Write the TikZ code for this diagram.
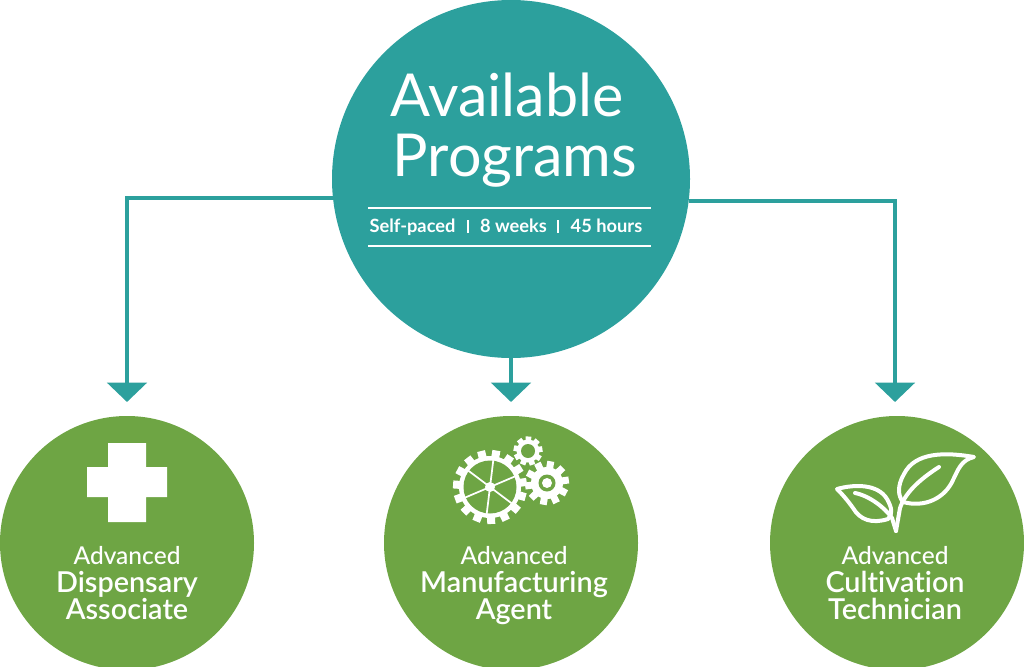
\documentclass[tikz,border=0pt]{standalone}
\usepackage{fontspec}
\setmainfont{Lato}[Ligatures=NoCommon]
\newfontfamily\titlefont{Lato}
\newfontfamily\mediumfont{Lato Medium}[Ligatures=NoCommon]
\newfontfamily\heavyfont{Lato Semibold}[Ligatures=NoCommon]
\definecolor{progteal}{RGB}{44,160,157}
\definecolor{proggreen}{RGB}{110,165,68}
\usetikzlibrary{arrows.meta}
% one gear: centre x, centre y, teeth, body radius, tooth radius, tooth half width
\newcommand{\gearwheel}[6]{
	\begin{scope}[shift={(#1,#2)}]
		\fill[white] (0,0) circle (#4);
		\foreach \a in {1,...,#3}
			\fill[white,rotate=\a*360/#3+8] (#4-2,-#6) rectangle (#5,#6);
	\end{scope}
}
\begin{document}
\begin{tikzpicture}[x=0.75pt, y=-0.75pt,
					>={Triangle[width=29.5pt,length=14.5pt]},   %Pfeilspitzen
					hub/.style={circle, fill=progteal, minimum size=268.5pt, inner sep=0pt, outer sep=0pt},
					branch/.style={circle, fill=proggreen, minimum size=190.5pt, inner sep=0pt, outer sep=0pt},
					link/.style={draw=progteal, line width=3pt, ->, shorten >=10.5pt},
					title/.style={text=white, anchor=base, inner sep=0pt, font=\titlefont\fontsize{44.4}{45}\selectfont},
					facts/.style={text=white, anchor=base, inner sep=0pt, font=\bfseries\fontsize{13.7}{14}\selectfont},
					small/.style={text=white, anchor=base, inner sep=0pt, font=\mediumfont\fontsize{18.4}{18}\selectfont},
					big/.style={text=white, anchor=base, inner sep=0pt, font=\heavyfont\fontsize{21.6}{21}\selectfont},
					leaf/.style={draw=white, line width=3pt, line cap=round, line join=round}]
	\clip (0,0) rectangle (1024,667); %Bildbereich
	% Kreise
	\node[hub] (programs) at (511,179) {};
	\node[branch] (dispensary) at (127,543) {};
	\node[branch] (manufacturing) at (511,543) {};
	\node[branch] (cultivation) at (897,543) {};
	% Pfeile
	\draw[link] (programs.186.3) -| (dispensary.north);
	\draw[link] (programs.south) -- (manufacturing.north);
	\draw[link] (programs.353.7) -| ([xshift=-1.5pt]cultivation.north);
	% Titel
	\node[title] (available) at (507,117) {Available};
	\node[title] (progname) at (515,176) {Programs};
	\draw[white, line width=1.5pt] (368,208) -- (651,208);
	\draw[white, line width=1.5pt] (368,246) -- (651,246);
	\node[facts] (paced) at (412.5,232.5) {Self-paced};
	\node[facts] (weeks) at (513.5,232.5) {8 weeks};
	\node[facts] (hours) at (606.5,232.5) {45 hours};
	\draw[white, line width=0.8pt] (468,220) -- (468,233);
	\draw[white, line width=0.8pt] (558,220) -- (558,233);
	% Beschriftung unten
	\node[small] (adv1) at (127,564) {Advanced};
	\node[big] (disp1) at (127,592) {Dispensary};
	\node[big] (disp2) at (127,619) {Associate};
	\node[small] (adv2) at (514,564) {Advanced};
	\node[big] (manu1) at (514,592) {Manufacturing};
	\node[big] (manu2) at (514,619) {Agent};
	\node[small] (adv3) at (895,564) {Advanced};
	\node[big] (cult1) at (895,592) {Cultivation};
	\node[big] (cult2) at (895,619) {Technician};
	% Kreuz
	\fill[white] (108,443) -- (146,443) -- (146,467) -- (167,467) -- (167,497) -- (146,497)
		-- (146,522) -- (108,522) -- (108,497) -- (87,497) -- (87,467) -- (108,467) -- cycle;
	% Zahnraeder
	\gearwheel{490}{487}{15}{31}{37}{4}
	\fill[proggreen] (490,487) circle (26.5);
	\fill[white] (490,487) circle (5);
	\foreach \a in {20,80,...,320}
		\draw[white, line width=1.3pt] (490,487) -- ++(\a+17:27);
	\gearwheel{528}{451}{9}{11.5}{14.5}{2.8}
	\fill[proggreen] (528,451) circle (7);
	\gearwheel{547}{483}{10}{16}{22}{3.5}
	\fill[proggreen] (547,483) circle (8.5);
	\fill[white] (547,483) circle (5);
	% Blaetter
	\draw[leaf] (974,457) .. controls (945,452) and (915,452) .. (904,474)
		.. controls (897,486) and (898,496) .. (903,502)
		.. controls (925,508) and (945,498) .. (953,480)
		.. controls (958,470) and (961,460) .. (974,457) -- cycle;
	\draw[leaf] (939,467) .. controls (925,476) and (906,490) .. (900,508) -- (896,531);
	\draw[leaf] (837,489) .. controls (855,484) and (878,484) .. (887,499)
		.. controls (892,508) and (893,514) .. (888,519)
		.. controls (872,524) and (860,520) .. (853,508)
		.. controls (848,501) and (843,495) .. (837,489) -- cycle;
	\draw[leaf] (855,493) .. controls (870,496) and (885,508) .. (892,518) -- (896,531);
\end{tikzpicture}
\end{document}
